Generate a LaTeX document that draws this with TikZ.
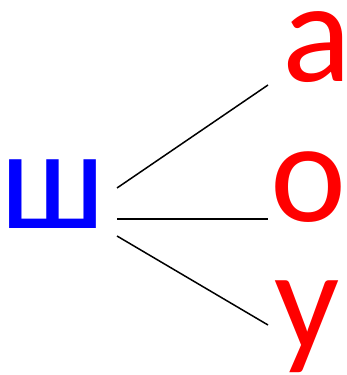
\documentclass[tikz,border=0pt]{standalone}
\usepackage{fontspec}
\setmainfont{Carlito}
\begin{document}
\begin{tikzpicture}[x=1pt,y=1pt,
  letter/.style={inner sep=0pt,anchor=base west,font=\fontsize{144}{144}\selectfont},
  link/.style={line width=1.5pt,black}]
\useasboundingbox (0,0) rectangle (346,375);
\node[letter,text={rgb,255:red,0;green,0;blue,255}] (sh) at (0,146) {ш};
\node[letter,text=red] (a) at (282,293) {а};
\node[letter,text=red] (o) at (270,153) {о};
\node[letter,text=red] (u) at (274,25) {у};
\coordinate (s1) at (117,187);
\coordinate (s2) at (117,156);
\coordinate (s3) at (117,139);
\coordinate (e1) at (268,290);
\coordinate (e2) at (268,156);
\coordinate (e3) at (268,50);
\draw[link] (s1) -- (e1);
\draw[link] (s2) -- (e2);
\draw[link] (s3) -- (e3);
\end{tikzpicture}
\end{document}
